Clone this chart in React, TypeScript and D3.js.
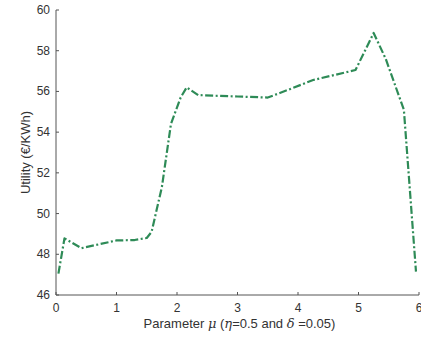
import React from 'react';
import * as d3 from 'd3';

// values
const muValues = [0.04, 0.14, 0.42, 1.0, 1.3, 1.5, 1.58, 1.75, 1.9, 2.06, 2.16, 2.35, 3.0, 3.5, 3.7, 4.25, 4.95, 5.25, 5.45, 5.75, 5.95];
const utility = [47.05, 48.78, 48.3, 48.68, 48.7, 48.8, 49.1, 51.3, 54.4, 55.7, 56.2, 55.82, 55.75, 55.7, 55.92, 56.56, 57.05, 58.87, 57.6, 55.1, 47.15];
const xTicks = [0, 1, 2, 3, 4, 5, 6];
const yTicks = [46, 48, 50, 52, 54, 56, 58, 60];

const W = 421;
const H = 337;
const margin = { top: 10, right: 2, bottom: 42, left: 56 };

const App = () => {
  const x = d3.scaleLinear().domain([0, 6]).range([margin.left, W - margin.right]);
  const y = d3.scaleLinear().domain([46, 60]).range([H - margin.bottom, margin.top]);
  const points = muValues.map((m, i) => [m, utility[i]] as [number, number]);
  const line = d3.line<[number, number]>().x(d => x(d[0])).y(d => y(d[1]));
  const axisColor = '#555';
  const textColor = '#333';
  const font = 'Liberation Sans, Arial, sans-serif';
  const greek = { fontFamily: 'DejaVu Serif, serif', fontStyle: 'italic' as const };

  return (
    <svg width={W} height={H} style={{ position: 'absolute', left: 0, top: 0 }} fontFamily={font}>
      <rect width={W} height={H} fill="#fff" />
      {/* axes */}
      <line x1={x(0)} x2={x(6)} y1={y(46)} y2={y(46)} stroke={axisColor} strokeWidth={1} />
      <line x1={x(0)} x2={x(0)} y1={y(46)} y2={y(60)} stroke={axisColor} strokeWidth={1} />
      {xTicks.map(t => (
        <g key={'x' + t}>
          <line x1={x(t)} x2={x(t)} y1={y(46)} y2={y(46) - 3} stroke={axisColor} />
          <text x={x(t)} y={y(46) + 17} textAnchor="middle" fontSize={12} fill={textColor}>{t}</text>
        </g>
      ))}
      {yTicks.map(t => (
        <g key={'y' + t}>
          <line x1={x(0)} x2={x(0) + 3} y1={y(t)} y2={y(t)} stroke={axisColor} />
          <text x={x(0) - 6} y={y(t) + 4} textAnchor="end" fontSize={12} fill={textColor}>{t}</text>
        </g>
      ))}
      {/* data line */}
      <path d={line(points) || ''} fill="none" stroke="#2e8b57" strokeWidth={2.2}
        strokeDasharray="8,2.5,2,2.5" strokeLinejoin="round" />
      {/* labels */}
      <text x={(x(0) + x(6)) / 2 + 2} y={H - 9} textAnchor="middle" fontSize={13} fill={textColor}>
        Parameter <tspan {...greek}>μ</tspan> (<tspan {...greek}>η</tspan>=0.5 and <tspan {...greek}>δ</tspan> =0.05)
      </text>
      <text transform={`translate(30,${(y(46) + y(60)) / 2}) rotate(-90)`} textAnchor="middle" fontSize={13} fill={textColor}>
        Utility (€/KWh)
      </text>
    </svg>
  );
};

export default App;
